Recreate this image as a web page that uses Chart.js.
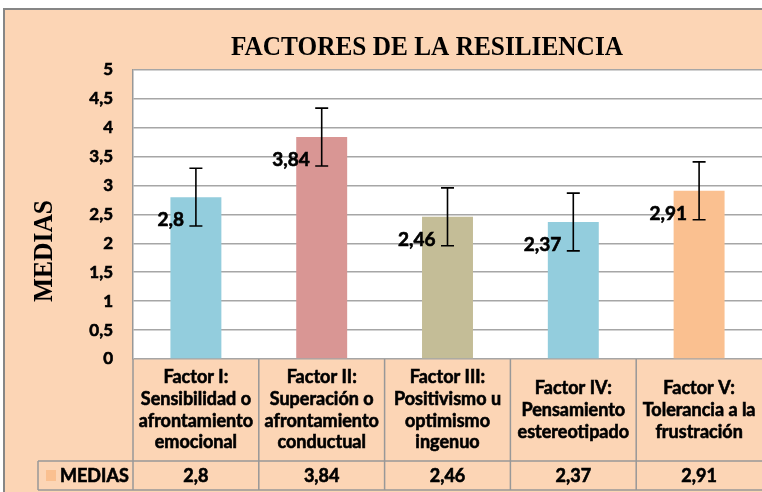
<!DOCTYPE html>
<html><head><meta charset="utf-8">
<script src="https://cdn.jsdelivr.net/npm/chart.js@4"></script>
<style>html,body{margin:0;padding:0;background:#fff;}canvas{display:block}</style>
</head><body>
<div style="width:762px;height:492px"><canvas id="c" width="762" height="492"></canvas></div>
<script>
const chartTitle = "FACTORES DE LA RESILIENCIA";
const axisTitle = "MEDIAS";
const seriesName = "MEDIAS";
const categories = [
  ["Factor I:", "Sensibilidad o", "afrontamiento", "emocional"],
  ["Factor II:", "Superación o", "afrontamiento", "conductual"],
  ["Factor III:", "Positivismo u", "optimismo", "ingenuo"],
  ["Factor IV:", "Pensamiento", "estereotipado"],
  ["Factor V:", "Tolerancia a la", "frustración"]
];
const medias = [2.8, 3.84, 2.46, 2.37, 2.91];
const mediasText = ["2,8", "3,84", "2,46", "2,37", "2,91"];
const errorMargins = [0.5, 0.5, 0.5, 0.5, 0.5];
const yTickLabels = ["0", "0,5", "1", "1,5", "2", "2,5", "3", "3,5", "4", "4,5", "5"];
const barColors = ["#93CDDD", "#D99694", "#C4BD97", "#93CDDD", "#FAC090"];

const PEACH = "#FCD5B5";
const LINE = "#989898";
const SANS = "Lato, 'Liberation Sans', sans-serif";
const SERIF = "'Liberation Serif', 'DejaVu Serif', serif";
const STROKE = 0.6;

function fitText(ctx, text, x, y, targetW, rot) {
  const w = ctx.measureText(text).width;
  ctx.save();
  ctx.translate(x, y);
  if (rot) ctx.rotate(rot);
  ctx.scale(targetW / w, 1);
  ctx.fillText(text, 0, 0);
  ctx.restore();
}
function boldText(ctx, t, x, y) {
  ctx.fillText(t, x, y);
  ctx.strokeText(t, x, y);
}

const decor = {
  id: 'decor',
  beforeDraw(chart) {
    const ctx = chart.ctx, a = chart.chartArea;
    const W = chart.width, H = chart.height;
    ctx.save();
    ctx.fillStyle = '#fff'; ctx.fillRect(0, 0, W, H);
    ctx.fillStyle = PEACH; ctx.fillRect(3, 8, W - 3, H - 8);
    ctx.strokeStyle = '#868686'; ctx.lineWidth = 2;
    ctx.beginPath(); ctx.moveTo(4, H); ctx.lineTo(4, 9); ctx.lineTo(W, 9); ctx.stroke();
    ctx.fillStyle = '#fff'; ctx.fillRect(a.left, a.top, a.right - a.left, a.bottom - a.top);
    ctx.fillStyle = '#000';
    ctx.textAlign = 'center'; ctx.textBaseline = 'alphabetic';
    ctx.font = "bold 27px " + SERIF;
    fitText(ctx, chartTitle, 427, 55, 392, 0);
    fitText(ctx, axisTitle, 52, 251, 102, -Math.PI / 2);
    ctx.restore();
  },
  afterDraw(chart) {
    const ctx = chart.ctx, a = chart.chartArea;
    const meta = chart.getDatasetMeta(0);
    const n = categories.length;
    const rowTop = a.bottom, rowMid = 461, rowBot = 490;
    const bounds = [a.left];
    for (let i = 0; i < n - 1; i++) bounds.push((meta.data[i].x + meta.data[i + 1].x) / 2);
    ctx.save();
    ctx.strokeStyle = LINE; ctx.lineWidth = 1.5;
    ctx.beginPath();
    bounds.forEach(b => { ctx.moveTo(b, rowTop); ctx.lineTo(b, rowBot); });
    ctx.moveTo(38, rowMid); ctx.lineTo(a.right, rowMid);
    ctx.moveTo(38, rowBot); ctx.lineTo(a.right, rowBot);
    ctx.moveTo(38, rowMid); ctx.lineTo(38, rowBot);
    ctx.stroke();
    ctx.fillStyle = '#000'; ctx.strokeStyle = '#000'; ctx.lineWidth = STROKE;
    ctx.font = "bold 18px " + SANS;
    ctx.textAlign = 'center'; ctx.textBaseline = 'middle';
    const lh = 21.7;
    categories.forEach((lines, i) => {
      const cx = meta.data[i].x;
      const cy = (rowTop + rowMid) / 2;
      const y0 = cy - (lines.length - 1) * lh / 2;
      lines.forEach((t, j) => boldText(ctx, t, cx, y0 + j * lh));
      boldText(ctx, mediasText[i], cx, (rowMid + rowBot) / 2 + 1);
    });
    ctx.fillStyle = "#FAC090";
    ctx.fillRect(46, 470, 10, 11);
    ctx.fillStyle = '#000';
    ctx.textAlign = 'left';
    boldText(ctx, seriesName, 60, (rowMid + rowBot) / 2 + 1);
    ctx.restore();
  },
  afterDatasetsDraw(chart) {
    const ctx = chart.ctx, ys = chart.scales.y;
    const meta = chart.getDatasetMeta(0);
    ctx.save();
    ctx.strokeStyle = '#000'; ctx.lineWidth = 1.6;
    medias.forEach((v, i) => {
      const x = meta.data[i].x;
      const yHi = ys.getPixelForValue(v + errorMargins[i]);
      const yLo = ys.getPixelForValue(v - errorMargins[i]);
      ctx.beginPath();
      ctx.moveTo(x, yHi); ctx.lineTo(x, yLo);
      ctx.moveTo(x - 6.5, yHi); ctx.lineTo(x + 6.5, yHi);
      ctx.moveTo(x - 6.5, yLo); ctx.lineTo(x + 6.5, yLo);
      ctx.stroke();
    });
    ctx.fillStyle = '#000'; ctx.lineWidth = STROKE;
    ctx.font = "bold 19px " + SANS;
    ctx.textAlign = 'right'; ctx.textBaseline = 'middle';
    medias.forEach((v, i) => {
      const x = meta.data[i].x;
      boldText(ctx, mediasText[i], x - 12, ys.getPixelForValue(v) + 23);
    });
    ctx.restore();
  }
};

new Chart(document.getElementById('c'), {
  type: 'bar',
  data: {
    labels: categories.map(c => c.join(' ')),
    datasets: [{
      label: seriesName,
      data: medias,
      backgroundColor: barColors,
      borderWidth: 0,
      barPercentage: 0.405,
      categoryPercentage: 1
    }]
  },
  options: {
    responsive: false,
    animation: false,
    devicePixelRatio: 1,
    layout: { padding: { left: 0, right: 0, top: 70, bottom: 133 } },
    plugins: { legend: { display: false }, title: { display: false }, tooltip: { enabled: false } },
    scales: {
      x: { display: false },
      y: {
        min: 0, max: 5,
        afterFit(s) { s.width = 133; },
        ticks: {
          stepSize: 0.5,
          padding: 20,
          color: '#000',
          textStrokeColor: '#000',
          textStrokeWidth: STROKE,
          font: { family: SANS, size: 17, weight: 'bold' },
          callback: (v, i) => yTickLabels[i]
        },
        grid: { color: '#A6A6A6', lineWidth: 1.6, drawTicks: false },
        border: { display: true, color: LINE, width: 1.5 }
      }
    }
  },
  plugins: [decor]
});
</script>
</body></html>
